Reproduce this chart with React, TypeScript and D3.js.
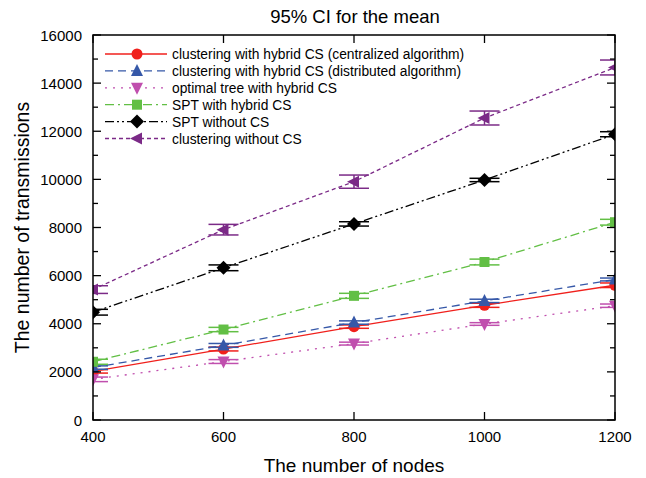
import React from "react";
import * as d3 from "d3";

const nodes = [400, 600, 800, 1000, 1200];
const seriesNames = [
  "clustering with hybrid CS (centralized algorithm)",
  "clustering with hybrid CS (distributed algorithm)",
  "optimal tree with hybrid CS",
  "SPT with hybrid CS",
  "SPT without CS",
  "clustering without CS",
];
const centralized = [2020, 2950, 3880, 4766, 5600];
const distributed = [2180, 3100, 4050, 4950, 5840];
const optimalTree = [1690, 2430, 3175, 3990, 4750];
const sptHybrid = [2420, 3760, 5160, 6566, 8220];
const sptWithout = [4480, 6325, 8150, 9975, 11876];
const clusteringWithout = [5420, 7910, 9905, 12550, 14650];
const ciCentralized = [70, 80, 70, 85, 95];
const ciDistributed = [70, 80, 70, 70, 60];
const ciOptimal = [95, 80, 60, 55, 70];
const ciSptHybrid = [105, 90, 105, 120, 120];
const ciSptWithout = [120, 120, 90, 70, 105];
const ciClusteringWithout = [160, 220, 275, 290, 310];
const xTicks = [400, 600, 800, 1000, 1200];
const yTicks = [0, 2000, 4000, 6000, 8000, 10000, 12000, 14000, 16000];
const yMinor = [1000, 3000, 5000, 7000, 9000, 11000, 13000, 15000];

const values = [centralized, distributed, optimalTree, sptHybrid, sptWithout, clusteringWithout];
const cis = [ciCentralized, ciDistributed, ciOptimal, ciSptHybrid, ciSptWithout, ciClusteringWithout];
const colors = ["#f0201c", "#3658a8", "#c04fae", "#62bf45", "#000000", "#7b2a87"];
const dashes = ["", "8,5", "2,6", "9,4,2,4", "9,3,2,3,2,3", "4,3"];
const markers = ["circle", "up", "down", "square", "diamond", "left"];

const L = 93, R = 615, T = 35, B = 420;

function Marker({ type, x, y, color }: { type: string; x: number; y: number; color: string }) {
  const s = 6;
  if (type === "circle") return <circle cx={x} cy={y} r={5.5} fill={color} />;
  if (type === "square") return <rect x={x - 5} y={y - 5} width={10} height={10} fill={color} />;
  let pts = "";
  if (type === "up") pts = `${x},${y - s - 1} ${x - s},${y + s - 1} ${x + s},${y + s - 1}`;
  if (type === "down") pts = `${x},${y + s + 1} ${x - s},${y - s + 1} ${x + s},${y - s + 1}`;
  if (type === "left") pts = `${x - s - 1},${y} ${x + s - 1},${y - s} ${x + s - 1},${y + s}`;
  if (type === "diamond") pts = `${x},${y - 7} ${x + 7},${y} ${x},${y + 7} ${x - 7},${y}`;
  return <polygon points={pts} fill={color} />;
}

export default function App() {
  const x = d3.scaleLinear().domain([400, 1200]).range([L, R]);
  const y = d3.scaleLinear().domain([0, 16000]).range([B, T]);
  const line = d3.line<number>().x((_, i) => x(nodes[i])).y((v) => y(v));
  const font = "Liberation Sans, Arial, sans-serif";
  return (
    <svg width={646} height={478} style={{ position: "absolute", left: 0, top: 0 }}>
      <rect width={646} height={478} fill="#fff" />
      <defs>
        <clipPath id="plot">
          <rect x={L} y={T} width={R - L} height={B - T} />
        </clipPath>
      </defs>
      <g clipPath="url(#plot)">
        {values.map((vals, si) => (
          <g key={si}>
            <path d={line(vals) || ""} fill="none" stroke={colors[si]} strokeWidth={1.3} strokeDasharray={dashes[si]} />
            {vals.map((v, i) => {
              const cx = x(nodes[i]);
              const hi = y(v + cis[si][i]);
              const lo = y(v - cis[si][i]);
              return (
                <g key={i}>
                  <line x1={cx} x2={cx} y1={hi} y2={lo} stroke={colors[si]} strokeWidth={1.5} />
                  <line x1={cx - 15} x2={cx + 15} y1={hi} y2={hi} stroke={colors[si]} strokeWidth={1.5} />
                  <line x1={cx - 15} x2={cx + 15} y1={lo} y2={lo} stroke={colors[si]} strokeWidth={1.5} />
                  <Marker type={markers[si]} x={cx} y={y(v)} color={colors[si]} />
                </g>
              );
            })}
          </g>
        ))}
      </g>
      <rect x={L} y={T} width={R - L} height={B - T} fill="none" stroke="#000" strokeWidth={1.5} />
      {xTicks.map((t) => (
        <g key={"x" + t}>
          <line x1={x(t)} x2={x(t)} y1={B} y2={B - 8} stroke="#000" strokeWidth={1.3} />
          <line x1={x(t)} x2={x(t)} y1={T} y2={T + 8} stroke="#000" strokeWidth={1.3} />
          <text x={x(t)} y={B + 22} textAnchor="middle" fontFamily={font} fontSize={15}>{t}</text>
        </g>
      ))}
      {yTicks.map((t) => (
        <g key={"y" + t}>
          <line x1={L} x2={L + 8} y1={y(t)} y2={y(t)} stroke="#000" strokeWidth={1.3} />
          <line x1={R} x2={R - 8} y1={y(t)} y2={y(t)} stroke="#000" strokeWidth={1.3} />
          <text x={L - 11} y={y(t) + 5.5} textAnchor="end" fontFamily={font} fontSize={15}>{t}</text>
        </g>
      ))}
      {yMinor.map((t) => (
        <g key={"m" + t}>
          <line x1={L} x2={L + 5} y1={y(t)} y2={y(t)} stroke="#000" strokeWidth={1.3} />
          <line x1={R} x2={R - 5} y1={y(t)} y2={y(t)} stroke="#000" strokeWidth={1.3} />
        </g>
      ))}
      <text x={355} y={23} textAnchor="middle" fontFamily={font} fontSize={18.5}>95% CI for the mean</text>
      <text x={354} y={472} textAnchor="middle" fontFamily={font} fontSize={19}>The number of nodes</text>
      <text transform={`translate(29,${(T + B) / 2}) rotate(-90)`} textAnchor="middle" fontFamily={font} fontSize={19.5}>The number of transmissions</text>
      {seriesNames.map((name, si) => {
        const ly = 54 + si * 16.9;
        return (
          <g key={"l" + si}>
            <line x1={105} x2={167} y1={ly} y2={ly} stroke={colors[si]} strokeWidth={1.3} strokeDasharray={dashes[si]} />
            <Marker type={markers[si]} x={137} y={ly} color={colors[si]} />
            <text x={172} y={ly + 5} fontFamily={font} fontSize={13.8}>{name}</text>
          </g>
        );
      })}
    </svg>
  );
}
